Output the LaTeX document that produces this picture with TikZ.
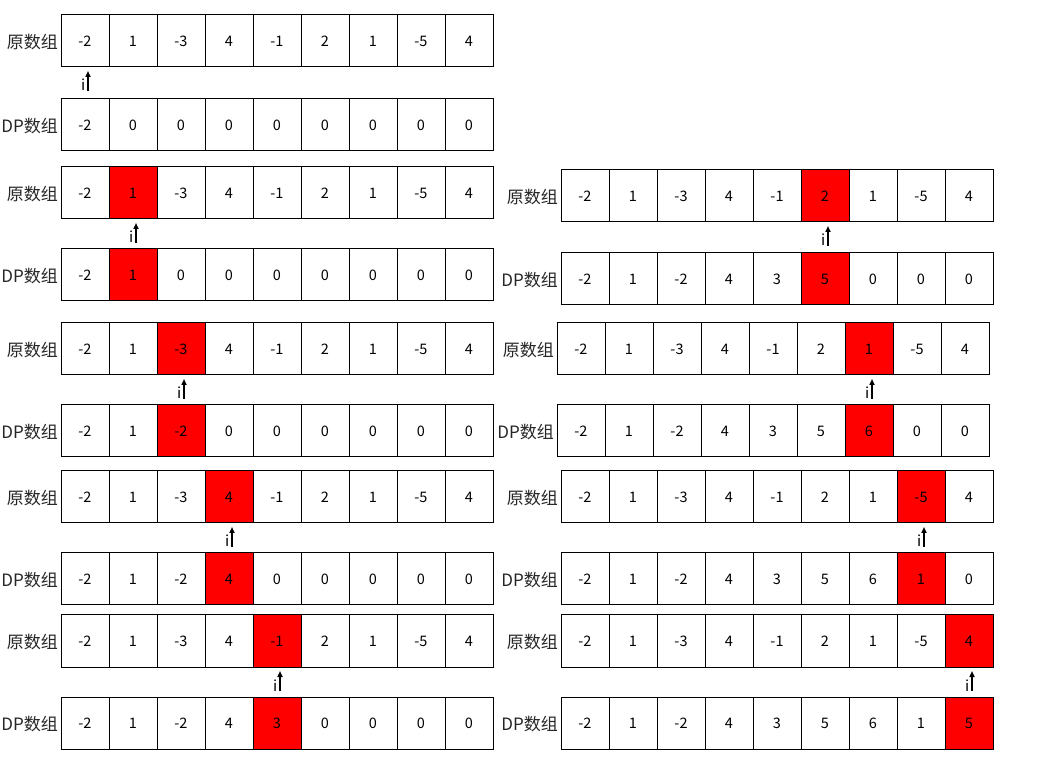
\documentclass[tikz,border=0pt]{standalone}
\usepackage{fontspec}
\setmainfont{Noto Sans CJK SC}
\usetikzlibrary{arrows.meta}
\tikzset{
  cellbox/.style={draw=black, line width=1pt, minimum width=48pt, minimum height=52pt,
    inner sep=0pt, outer sep=0pt, font=\fontsize{14.5}{16}\selectfont, text=black},
  lab/.style={inner sep=0pt, font=\fontsize{17}{19}\selectfont, text=black!85},
  iarr/.style={line width=1.6pt, -{Triangle[length=6pt,width=5pt]}},
  ilab/.style={inner sep=0pt, font=\fontsize{15}{17}\selectfont}
}
\newcommand\drawarr[6]{%
  \node[lab, anchor=east] (#1-lab) at (#2-3, 758-#3-27) {#4};
  \foreach \v [count=\k] in {#5} {
    \ifnum\k=#6 \def\fillc{red}\else\def\fillc{white}\fi
    \node[cellbox, fill=\fillc] (#1-\k) at (#2+48*\k-24, 758-#3-26) {\v};
  }
}
\newcommand\iarrow[1]{%
  \coordinate (#1-tail) at ([xshift=3pt,yshift=-24pt]#1.south);
  \draw[iarr] (#1-tail) -- ([xshift=3pt,yshift=-4pt]#1.south);
  \node[ilab, anchor=base east] (#1-i) at ([xshift=-2.5pt]#1-tail) {i};
}
\begin{document}
\begin{tikzpicture}[x=1pt,y=1pt]
\useasboundingbox (0,0) rectangle (1060,758);
\fill[white] (0,0) rectangle (1060,758);
% left column
\drawarr{LAo}{61}{15}{原数组}{-2,1,-3,4,-1,2,1,-5,4}{0}
\drawarr{LAd}{61}{99}{DP数组}{-2,0,0,0,0,0,0,0,0}{0}
\iarrow{LAo-1}
\drawarr{LBo}{61}{167}{原数组}{-2,1,-3,4,-1,2,1,-5,4}{2}
\drawarr{LBd}{61}{249}{DP数组}{-2,1,0,0,0,0,0,0,0}{2}
\iarrow{LBo-2}
\drawarr{LCo}{61}{323}{原数组}{-2,1,-3,4,-1,2,1,-5,4}{3}
\drawarr{LCd}{61}{405}{DP数组}{-2,1,-2,0,0,0,0,0,0}{3}
\iarrow{LCo-3}
\drawarr{LDo}{61}{471}{原数组}{-2,1,-3,4,-1,2,1,-5,4}{4}
\drawarr{LDd}{61}{553}{DP数组}{-2,1,-2,4,0,0,0,0,0}{4}
\iarrow{LDo-4}
\drawarr{LEo}{61}{615}{原数组}{-2,1,-3,4,-1,2,1,-5,4}{5}
\drawarr{LEd}{61}{697}{DP数组}{-2,1,-2,4,3,0,0,0,0}{5}
\iarrow{LEo-5}
% right column
\drawarr{RAo}{561}{170}{原数组}{-2,1,-3,4,-1,2,1,-5,4}{6}
\drawarr{RAd}{561}{253}{DP数组}{-2,1,-2,4,3,5,0,0,0}{6}
\iarrow{RAo-6}
\drawarr{RBo}{557}{323}{原数组}{-2,1,-3,4,-1,2,1,-5,4}{7}
\drawarr{RBd}{557}{405}{DP数组}{-2,1,-2,4,3,5,6,0,0}{7}
\iarrow{RBo-7}
\drawarr{RCo}{561}{471}{原数组}{-2,1,-3,4,-1,2,1,-5,4}{8}
\drawarr{RCd}{561}{553}{DP数组}{-2,1,-2,4,3,5,6,1,0}{8}
\iarrow{RCo-8}
\drawarr{RDo}{561}{615}{原数组}{-2,1,-3,4,-1,2,1,-5,4}{9}
\drawarr{RDd}{561}{697}{DP数组}{-2,1,-2,4,3,5,6,1,5}{9}
\iarrow{RDo-9}
\end{tikzpicture}
\end{document}
